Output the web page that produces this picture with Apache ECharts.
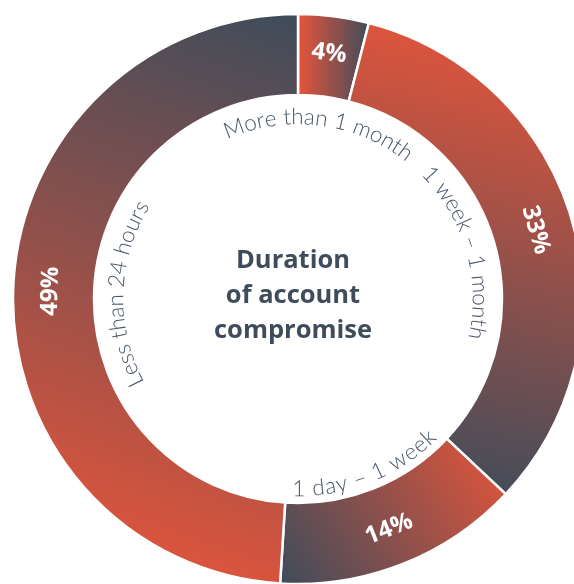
<!DOCTYPE html>
<html><head><meta charset="utf-8">
<script src="https://cdn.jsdelivr.net/npm/echarts@6/dist/echarts.min.js"></script>
<style>html,body{margin:0;padding:0;background:#fff}#c{width:574px;height:584px}</style>
</head><body><div id="c"></div>
<script>
const categories = ['More than 1 month', '1 week – 1 month', '1 day – 1 week', 'Less than 24 hours'];
const values = [4, 33, 14, 49];
const titleLines = ['Duration', 'of account', 'compromise'];

const ORANGE = '#E8553A', SLATE = '#3E4C5B';
// gradient direction per slice (x, y, x2, y2, from, to)
const gradients = [
  [0, 0, 1, 0, ORANGE, SLATE],
  [0.75, 0, 0.3, 1, ORANGE, SLATE],
  [1, 0, 0, 1, ORANGE, SLATE],
  [1, 0, 0.3, 1, SLATE, ORANGE]
];

const CX = 298, CY = 299, R0 = 204, R1 = 285;
const LABEL_FONT_SIZE = 22.5, LABEL_WEIGHT = 300, LABEL_FAMILY = 'Lato';
const LS = 0.4;

const chart = echarts.init(document.getElementById('c'), null, {renderer: 'canvas'});

const total = values.reduce((a, b) => a + b, 0);
const cv = document.createElement('canvas').getContext('2d');
cv.font = LABEL_WEIGHT + ' ' + LABEL_FONT_SIZE + 'px ' + LABEL_FAMILY;
const graphics = [];
let cum = 0;
values.forEach((v, i) => {
  const midDeg = (cum + v / 2) / total * 360; cum += v;
  const mid = midDeg * Math.PI / 180;
  const text = categories[i];
  const flip = midDeg > 90 && midDeg < 270;
  const r = flip ? 190 : 182;
  const chars = [...text];
  const widths = chars.map(ch => cv.measureText(ch).width + LS);
  const W = widths.reduce((a, b) => a + b, 0) - LS;
  let acc = -W / 2;
  chars.forEach((ch, k) => {
    const off = acc + (widths[k] - LS) / 2;
    acc += widths[k];
    const th = flip ? mid - off / r : mid + off / r;
    graphics.push({
      type: 'text',
      x: CX + r * Math.sin(th),
      y: CY - r * Math.cos(th),
      rotation: flip ? Math.PI - th : -th,
      silent: true,
      style: {
        text: ch,
        fontSize: LABEL_FONT_SIZE, fontWeight: LABEL_WEIGHT, fontFamily: LABEL_FAMILY,
        fill: '#4A5869',
        align: 'center', verticalAlign: 'middle',
        textAlign: 'center', textVerticalAlign: 'middle'
      }
    });
  });
});

graphics.push({
  type: 'text',
  x: 293, y: 296,
  silent: true,
  style: {
    text: titleLines.join('\n'),
    fontSize: 25.5, fontWeight: 700, fontFamily: 'Open Sans',
    lineHeight: 35,
    fill: '#3E4C5B',
    align: 'center', verticalAlign: 'middle',
    textAlign: 'center', textVerticalAlign: 'middle'
  }
});

chart.setOption({
  animation: false,
  graphic: graphics,
  series: [{
    type: 'pie',
    center: [CX, CY],
    radius: [R0, R1],
    startAngle: 90,
    clockwise: true,
    silent: true,
    label: {
      show: true,
      position: 'inside',
      rotate: 'tangential',
      formatter: '{c}%',
      color: '#fff',
      fontSize: 24,
      fontWeight: 700,
      fontFamily: 'Open Sans'
    },
    labelLine: {show: false},
    itemStyle: {borderColor: '#fff', borderWidth: 2.5},
    data: values.map((v, i) => ({
      name: categories[i],
      value: v,
      itemStyle: {
        color: {
          type: 'linear',
          x: gradients[i][0], y: gradients[i][1], x2: gradients[i][2], y2: gradients[i][3],
          colorStops: [{offset: 0, color: gradients[i][4]}, {offset: 1, color: gradients[i][5]}]
        }
      }
    }))
  }]
});
</script></body></html>
